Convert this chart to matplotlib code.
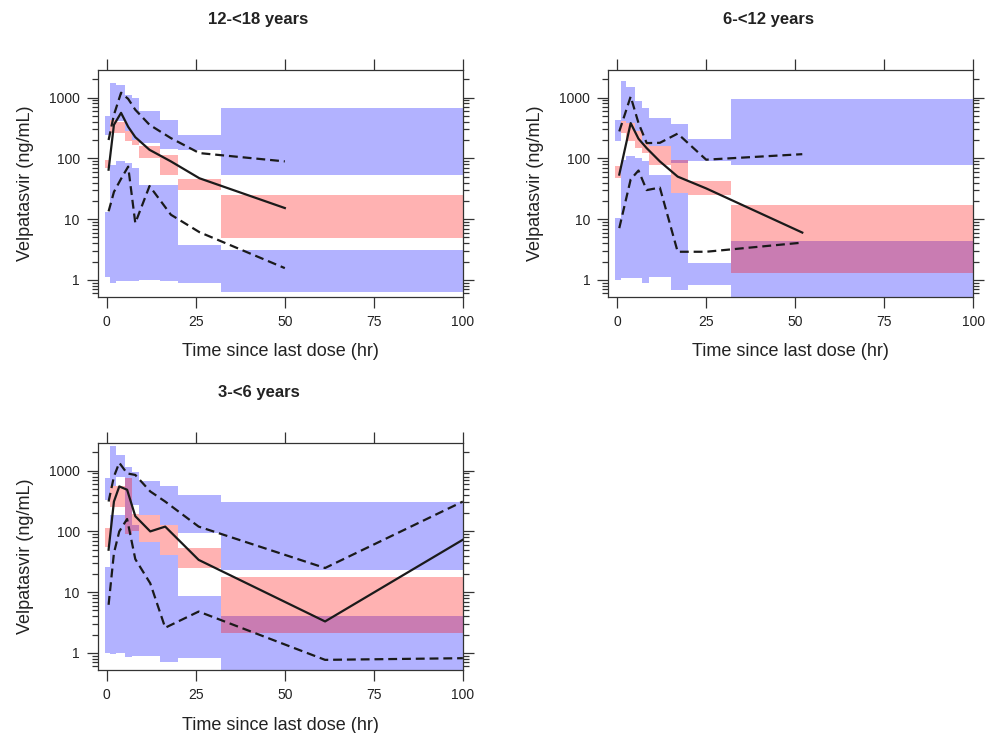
import matplotlib
matplotlib.use("Agg")
import matplotlib.pyplot as plt
import numpy as np
from matplotlib.ticker import LogLocator, FixedLocator, NullFormatter, FixedFormatter

plt.rcParams['font.family'] = ['Liberation Sans', 'DejaVu Sans']

# time bins of the prediction intervals (hr)
bin_edges = [-0.5, 1, 2.5, 5, 7, 9, 15, 20, 32, 100]

# 12-<18 years
p1_upper_lo = [245, 434, 407, 277, 203, 178, 140, 138, 54]
p1_upper_hi = [490, 1740, 1630, 1100, 1000, 590, 435, 245, 670]
p1_median_lo = [69, 260, 260, 190, 165, 101, 54, 30, 4.9]
p1_median_hi = [95, 420, 400, 277, 200, 157, 115, 45, 25]
p1_lower_lo = [1.13, 0.88, 0.94, 0.94, 0.94, 1.0, 0.94, 0.88, 0.64]
p1_lower_hi = [13, 78, 89, 84, 70, 37, 37, 3.8, 3.1]
p1_time = [0.5, 2, 4, 6, 8, 12, 18, 26, 50]
p1_obs_median = [65, 356, 560, 330, 223, 138, 89, 47, 15.2]
p1_obs_p95 = [200, 520, 1200, 950, 630, 356, 215, 122, 89]
p1_obs_p5 = [13.4, 28, 46, 73, 8.6, 35, 11.8, 6.1, 1.56]

# 6-<12 years
p2_upper_lo = [190, 407, 380, 277, 178, 157, 84, 92, 78]
p2_upper_hi = [432, 1850, 1520, 880, 680, 460, 370, 205, 950]
p2_median_lo = [47, 260, 190, 147, 122, 78, 27, 25, 1.29]
p2_median_hi = [74, 407, 380, 277, 178, 157, 95, 42, 17.2]
p2_lower_lo = [1.0, 1.07, 1.07, 1.07, 0.9, 1.1, 0.68, 0.83, 0.4]
p2_lower_hi = [10.5, 95, 110, 101, 90, 54, 27, 1.9, 4.3]
p2_time = [0.6, 3.8, 6, 8.3, 12, 17, 25, 52]
p2_obs_median = [54, 380, 210, 147, 89, 50, 32, 6.0]
p2_obs_p95 = [277, 1040, 380, 178, 180, 255, 95, 117]
p2_obs_p5 = [7.1, 45, 63, 30, 33, 2.9, 2.9, 4.1]

# 3-<6 years
p3_upper_lo = [330, 550, 800, 250, 275, 187, 128, 94, 23.4]
p3_upper_hi = [760, 2500, 1830, 1150, 950, 670, 550, 400, 310]
p3_median_lo = [56, 257, 257, 90, 100, 68, 41, 25, 2.1]
p3_median_hi = [113, 550, 550, 760, 190, 187, 128, 53, 18]
p3_lower_lo = [1.0, 0.95, 1.0, 0.85, 0.9, 0.9, 0.7, 0.82, 0.4]
p3_lower_hi = [26, 187, 187, 250, 128, 68, 41, 8.5, 4.0]
p3_time = [0.5, 2, 3.5, 5.7, 8, 12.2, 16.4, 25.8, 61.3, 100]
p3_obs_median = [50, 310, 550, 485, 178, 100, 120, 34, 3.3, 73]
p3_obs_p95 = [310, 800, 1350, 900, 850, 455, 310, 120, 25, 310]
p3_obs_p5 = [6.2, 44, 100, 160, 35, 14, 2.6, 4.8, 0.77, 0.82]

x_ticks = [0, 25, 50, 75, 100]
y_ticks = [1, 10, 100, 1000]
y_tick_labels = ['1', '10', '100', '1000']


def band(ax, lo, hi, color):
    lo = list(lo) + [lo[-1]]
    hi = list(hi) + [hi[-1]]
    ax.fill_between(bin_edges, lo, hi, step='post', color=color, alpha=0.3, linewidth=0)


def panel(ax, title, up_lo, up_hi, md_lo, md_hi, lw_lo, lw_hi, t, med, p95, p5):
    band(ax, up_lo, up_hi, 'blue')
    band(ax, lw_lo, lw_hi, 'blue')
    band(ax, md_lo, md_hi, 'red')
    ax.plot(t, med, color='#1a1a1a', lw=1.6)
    ax.plot(t, p95, color='#1a1a1a', lw=1.6, ls=(0, (4, 2.2)))
    ax.plot(t, p5, color='#1a1a1a', lw=1.6, ls=(0, (4, 2.2)))

    ax.set_yscale('log')
    ax.set_xlim(-2.5, 100)
    ax.set_ylim(0.525, 2880)
    ax.xaxis.set_major_locator(FixedLocator(x_ticks))
    ax.yaxis.set_major_locator(FixedLocator(y_ticks))
    ax.yaxis.set_major_formatter(FixedFormatter(y_tick_labels))
    ax.yaxis.set_minor_locator(LogLocator(base=10, subs=np.arange(2, 10)))
    ax.yaxis.set_minor_formatter(NullFormatter())
    ax.tick_params(which='both', direction='out', top=True, right=True,
                   labeltop=False, labelright=False, colors='#333333',
                   labelcolor='#222222', labelsize=10, width=0.9)
    ax.tick_params(which='major', length=8, pad=5)
    ax.tick_params(which='minor', length=4.5)
    for s in ax.spines.values():
        s.set_color('#333333')
        s.set_linewidth(0.9)

    ax.set_xlabel('Time since last dose (hr)', fontsize=13, color='#222222')
    ax.set_ylabel('Velpatasvir (ng/mL)', fontsize=13, color='#222222')
    ax.xaxis.set_label_coords(0.5, -0.205)
    ax.yaxis.set_label_coords(-0.175, 0.5)
    ax.text(0.44, 1.22, title, transform=ax.transAxes, ha='center', va='center',
            fontsize=12, fontweight='bold', color='#222222')


fig = plt.figure(figsize=(9.89, 7.33), dpi=100)
ax1 = fig.add_axes([0.099, 0.595, 0.369, 0.310])
ax2 = fig.add_axes([0.615, 0.595, 0.369, 0.310])
ax3 = fig.add_axes([0.099, 0.086, 0.369, 0.310])

panel(ax1, '12-<18 years', p1_upper_lo, p1_upper_hi, p1_median_lo, p1_median_hi,
      p1_lower_lo, p1_lower_hi, p1_time, p1_obs_median, p1_obs_p95, p1_obs_p5)
panel(ax2, '6-<12 years', p2_upper_lo, p2_upper_hi, p2_median_lo, p2_median_hi,
      p2_lower_lo, p2_lower_hi, p2_time, p2_obs_median, p2_obs_p95, p2_obs_p5)
panel(ax3, '3-<6 years', p3_upper_lo, p3_upper_hi, p3_median_lo, p3_median_hi,
      p3_lower_lo, p3_lower_hi, p3_time, p3_obs_median, p3_obs_p95, p3_obs_p5)

fig.savefig('out.png', dpi=100)
